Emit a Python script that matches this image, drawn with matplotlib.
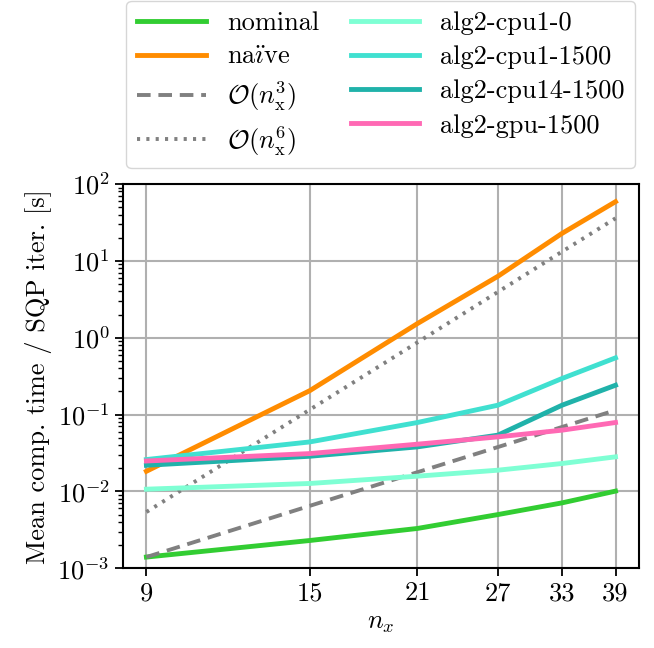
import numpy as np
import matplotlib
matplotlib.use("Agg")
import matplotlib.pyplot as plt

plt.rcParams['font.family'] = ['cmr10', 'DejaVu Serif']
plt.rcParams['mathtext.fontset'] = 'cm'
plt.rcParams['axes.formatter.use_mathtext'] = True
plt.rcParams['font.size'] = 19

nx = [9, 15, 21, 27, 33, 39]

nominal = [0.0014, 0.0023, 0.0033, 0.0050, 0.0071, 0.0101]
naive = [0.0183, 0.205, 1.53, 6.3, 22.8, 58.9]
order3 = [0.0014, 0.0065, 0.0178, 0.0378, 0.069, 0.114]
order6 = [0.0054, 0.116, 0.87, 3.94, 13.2, 35.8]
cpu1_0 = [0.0107, 0.0127, 0.0158, 0.0189, 0.0231, 0.0282]
cpu1_1500 = [0.026, 0.0441, 0.0789, 0.1325, 0.295, 0.547]
cpu14_1500 = [0.0219, 0.0287, 0.038, 0.054, 0.1325, 0.241]
gpu_1500 = [0.0249, 0.0311, 0.0412, 0.0513, 0.0627, 0.0789]

fig = plt.figure(figsize=(6.54, 6.48), dpi=100)
ax = fig.add_axes([0.188, 0.123, 0.789, 0.593])

lw = 3.5
ax.plot(nx, nominal, color='limegreen', lw=lw, label='nominal')
ax.plot(nx, naive, color='darkorange', lw=lw, label=r'na$\ddot{\imath}$ve')
ax.plot(nx, order3, color='gray', lw=2.8, ls=(0, (3.5, 2)), label=r'$\mathcal{O}(n_\mathrm{x}^3)$')
ax.plot(nx, order6, color='gray', lw=2.8, ls=(0, (0.8, 1.6)), label=r'$\mathcal{O}(n_\mathrm{x}^6)$')
ax.plot(nx, cpu1_0, color='aquamarine', lw=lw, label='alg2-cpu1-0')
ax.plot(nx, cpu1_1500, color='turquoise', lw=lw, label='alg2-cpu1-1500')
ax.plot(nx, cpu14_1500, color='lightseagreen', lw=lw, label='alg2-cpu14-1500')
ax.plot(nx, gpu_1500, color='hotpink', lw=lw, label='alg2-gpu-1500')

ax.set_xscale('log')
ax.set_yscale('log')
ax.set_xticks(nx)
ax.set_xticklabels([str(v) for v in nx])
ax.set_xticks([], minor=True)
ax.set_ylim(1e-3, 1e2)
ax.grid(True, which='major', color='#b0b0b0', lw=1.5)
for s in ax.spines.values():
    s.set_linewidth(1.5)
ax.tick_params(which='major', width=1.3, length=6)
ax.tick_params(which='minor', width=1.0, length=3.5)

ax.set_xlabel(r'$n_x$')
ax.set_ylabel('Mean comp. time / SQP iter. [s]')

ax.legend(loc='lower center', bbox_to_anchor=(0.5, 1.0), ncol=2,
          handlelength=2.6, columnspacing=1.2, borderaxespad=0.6,
          labelspacing=0.4)

fig.savefig('out.png', dpi=100)
